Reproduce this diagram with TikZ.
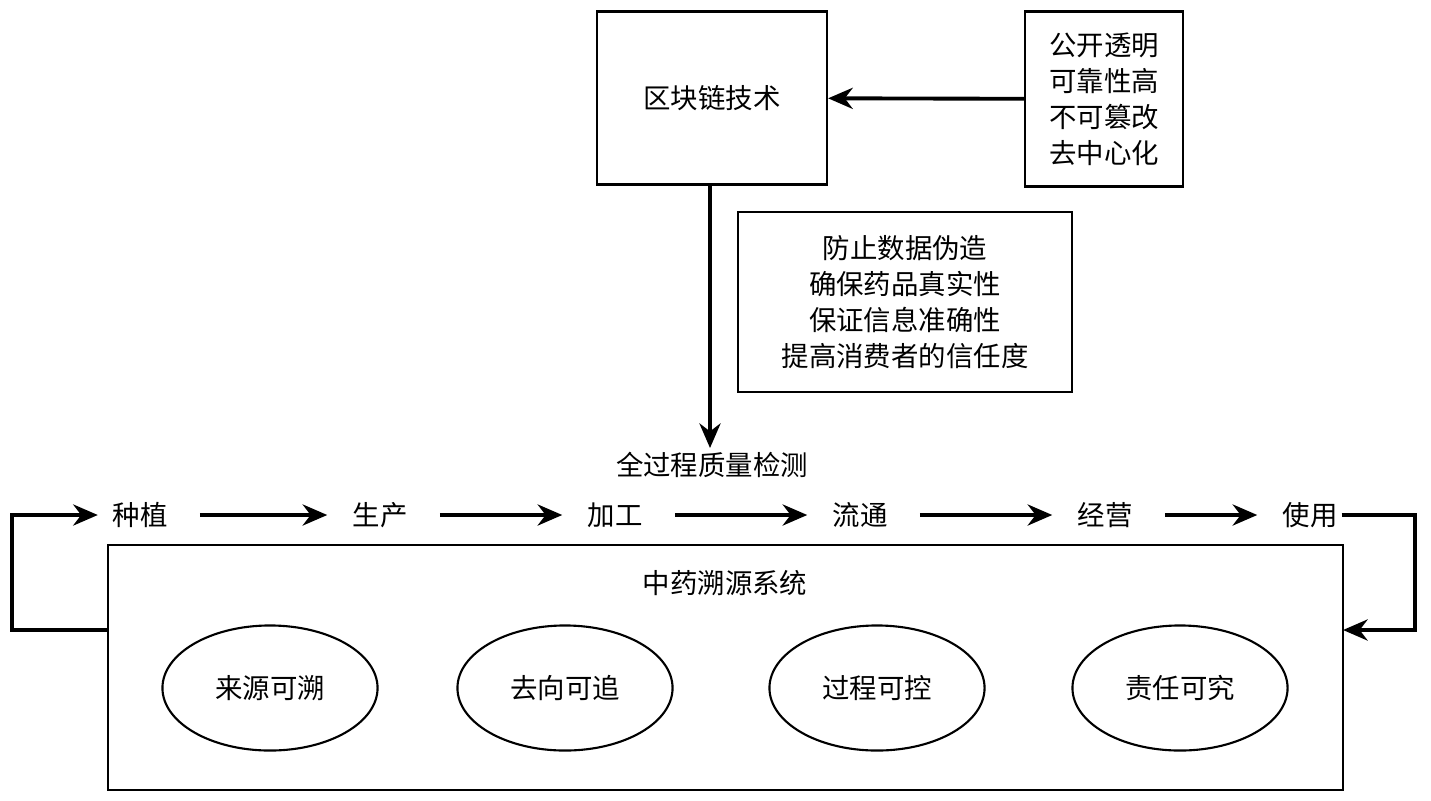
\documentclass[tikz,border=0pt]{standalone}
\usepackage{fontspec}
\setmainfont{Noto Sans CJK SC}
\usetikzlibrary{positioning,shapes.geometric,arrows.meta}
\tikzset{
box/.style={rectangle, draw=black, line width=0.6pt, align=center, font=\fontsize{7.8}{10.2}\selectfont},
stage/.style={inner sep=1pt, font=\fontsize{7.8}{9}\selectfont},
goal/.style={ellipse, draw=black, line width=0.6pt, minimum width=2.15cm, minimum height=1.25cm, font=\fontsize{7.8}{9}\selectfont},
arrow/.style={line width=1.1pt, -{Stealth[length=7pt,width=6pt]}}
}
\begin{document}
\begin{tikzpicture}[x=0.01cm,y=-0.01cm]
\useasboundingbox (0,0) rectangle (1431,800);
% top part
\node (chain) [box, minimum width=2.3cm, minimum height=1.73cm] at (712,98) {区块链技术};
\node (feat) [box, minimum width=1.58cm, minimum height=1.75cm, inner sep=2pt] at (1104,99) {公开透明\\可靠性高\\不可篡改\\去中心化};
\node (aim) [box, minimum width=3.34cm, minimum height=1.8cm] at (905,302) {防止数据伪造\\确保药品真实性\\保证信息准确性\\提高消费者的信任度};
\node (check) [stage] at (712,465) {全过程质量检测};
\draw [arrow] (feat) -- (chain);
\draw [arrow] (chain.south -| 710,0) -- (check.north -| 710,0);
% chain of stages
\node (s1) [stage] at (140,515) {种植};
\node (s2) [stage] at (380,515) {生产};
\node (s3) [stage] at (615,515) {加工};
\node (s4) [stage] at (860,515) {流通};
\node (s5) [stage] at (1105,515) {经营};
\node (s6) [stage] at (1310,515) {使用};
\foreach \a/\b in {s1/s2,s2/s3,s3/s4,s4/s5,s5/s6}
  \draw [arrow] ([xshift=8pt]\a.east) -- ([xshift=-6pt]\b.west);
% trace system
\node (sys) [box, minimum width=12.35cm, minimum height=2.45cm] at (725.5,667.5) {};
\node (title) [stage] at (725,583) {中药溯源系统};
\node (g1) [goal] at (270,688) {来源可溯};
\node (g2) [goal] at (565,688) {去向可追};
\node (g3) [goal] at (877,688) {过程可控};
\node (g4) [goal] at (1180,688) {责任可究};
\coordinate (lin) at (108,630);
\coordinate (rin) at (1343,630);
\draw [arrow] (lin) -- (12,630) -- (12,515) -- ([xshift=-3pt]s1.west);
\draw [arrow] (s6.east) -- (1415,515) -- (1415,630) -- (rin);
\end{tikzpicture}
\end{document}
